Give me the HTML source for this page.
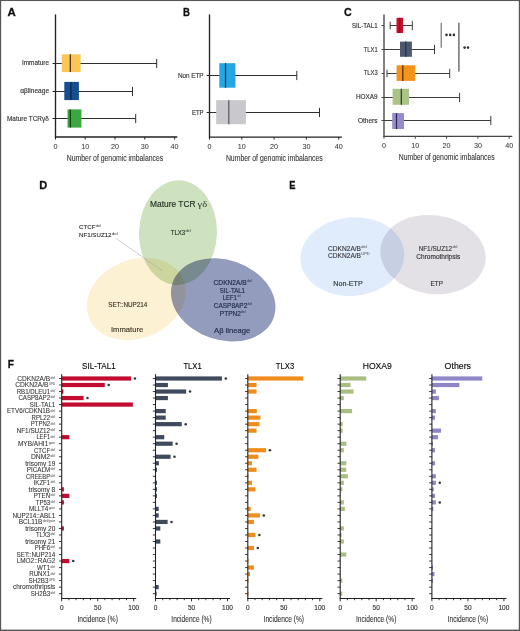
<!DOCTYPE html>
<html><head><meta charset="utf-8"><style>
html,body{margin:0;padding:0;background:#fff;}
body{width:520px;height:631px;overflow:hidden;}
svg{display:block;font-family:"Liberation Sans", sans-serif;}
</style></head><body>
<svg width="520" height="631" viewBox="0 0 520 631">
<rect x="0" y="0" width="520" height="631" fill="#fff"/>
<text x="7.55" y="16.10" font-size="11.6" fill="#111" textLength="8.30" lengthAdjust="spacingAndGlyphs" font-weight="bold" stroke="#111" stroke-width="0.3">A</text>
<text x="182.95" y="16.00" font-size="11.6" fill="#111" textLength="6.90" lengthAdjust="spacingAndGlyphs" font-weight="bold" stroke="#111" stroke-width="0.3">B</text>
<text x="343.95" y="16.10" font-size="11.6" fill="#111" textLength="7.70" lengthAdjust="spacingAndGlyphs" font-weight="bold" stroke="#111" stroke-width="0.3">C</text>
<text x="39.25" y="189.30" font-size="11.6" fill="#111" textLength="8.00" lengthAdjust="spacingAndGlyphs" font-weight="bold" stroke="#111" stroke-width="0.3">D</text>
<text x="289.25" y="189.30" font-size="11.6" fill="#111" textLength="6.20" lengthAdjust="spacingAndGlyphs" font-weight="bold" stroke="#111" stroke-width="0.3">E</text>
<text x="7.85" y="368.40" font-size="11.6" fill="#111" textLength="6.20" lengthAdjust="spacingAndGlyphs" font-weight="bold" stroke="#111" stroke-width="0.3">F</text>
<line x1="55.50" y1="14.40" x2="55.50" y2="137.60" stroke="#222" stroke-width="1.35"/>
<line x1="54.90" y1="137.00" x2="177.30" y2="137.00" stroke="#222" stroke-width="1.35"/>
<line x1="55.50" y1="137.00" x2="55.50" y2="139.50" stroke="#222" stroke-width="1"/>
<line x1="85.20" y1="137.00" x2="85.20" y2="139.50" stroke="#222" stroke-width="1"/>
<line x1="115.00" y1="137.00" x2="115.00" y2="139.50" stroke="#222" stroke-width="1"/>
<line x1="144.80" y1="137.00" x2="144.80" y2="139.50" stroke="#222" stroke-width="1"/>
<line x1="174.60" y1="137.00" x2="174.60" y2="139.50" stroke="#222" stroke-width="1"/>
<text x="55.50" y="148.60" font-size="7.2" text-anchor="middle" fill="#3a3a3a" stroke="#3a3a3a" stroke-width="0.05">0</text>
<text x="85.20" y="148.60" font-size="7.2" text-anchor="middle" fill="#3a3a3a" stroke="#3a3a3a" stroke-width="0.05">10</text>
<text x="115.00" y="148.60" font-size="7.2" text-anchor="middle" fill="#3a3a3a" stroke="#3a3a3a" stroke-width="0.05">20</text>
<text x="144.80" y="148.60" font-size="7.2" text-anchor="middle" fill="#3a3a3a" stroke="#3a3a3a" stroke-width="0.05">30</text>
<text x="174.60" y="148.60" font-size="7.2" text-anchor="middle" fill="#3a3a3a" stroke="#3a3a3a" stroke-width="0.05">40</text>
<text x="66.80" y="160.80" font-size="9.9" fill="#333" textLength="96.40" lengthAdjust="spacingAndGlyphs" stroke="#333" stroke-width="0.1">Number of genomic imbalances</text>
<line x1="52.60" y1="63.50" x2="55.50" y2="63.50" stroke="#222" stroke-width="1"/>
<line x1="52.60" y1="91.50" x2="55.50" y2="91.50" stroke="#222" stroke-width="1"/>
<line x1="52.60" y1="118.50" x2="55.50" y2="118.50" stroke="#222" stroke-width="1"/>
<line x1="55.50" y1="63.50" x2="156.70" y2="63.50" stroke="#2e2e2e" stroke-width="1.05"/>
<line x1="156.70" y1="58.90" x2="156.70" y2="68.10" stroke="#2e2e2e" stroke-width="1"/>
<rect x="61.80" y="54.30" width="18.80" height="17.80" fill="#fbc754"/>
<line x1="70.30" y1="54.30" x2="70.30" y2="72.10" stroke="#3a2a10" stroke-width="1.2"/>
<line x1="55.50" y1="91.50" x2="132.50" y2="91.50" stroke="#2e2e2e" stroke-width="1.05"/>
<line x1="132.50" y1="86.90" x2="132.50" y2="96.10" stroke="#2e2e2e" stroke-width="1"/>
<rect x="64.30" y="81.90" width="14.60" height="18.20" fill="#154f8f"/>
<line x1="70.90" y1="81.90" x2="70.90" y2="100.10" stroke="#0c2440" stroke-width="1.2"/>
<line x1="55.50" y1="118.50" x2="135.70" y2="118.50" stroke="#2e2e2e" stroke-width="1.05"/>
<line x1="135.70" y1="113.90" x2="135.70" y2="123.10" stroke="#2e2e2e" stroke-width="1"/>
<rect x="67.50" y="109.40" width="13.90" height="18.20" fill="#3aa83e"/>
<line x1="70.30" y1="109.40" x2="70.30" y2="127.60" stroke="#12361a" stroke-width="1.2"/>
<text x="49.00" y="65.40" font-size="6.5" text-anchor="end" fill="#333" textLength="27.00" lengthAdjust="spacingAndGlyphs" stroke="#333" stroke-width="0.14">Immature</text>
<text x="49.10" y="93.20" font-size="6.5" text-anchor="end" fill="#333" textLength="28.80" lengthAdjust="spacingAndGlyphs" stroke="#333" stroke-width="0.14">αβlineage</text>
<text x="48.80" y="120.70" font-size="6.5" text-anchor="end" fill="#333" textLength="41.80" lengthAdjust="spacingAndGlyphs" stroke="#333" stroke-width="0.14">Mature TCRγδ</text>
<line x1="209.50" y1="14.40" x2="209.50" y2="137.70" stroke="#222" stroke-width="1.35"/>
<line x1="208.90" y1="137.10" x2="341.90" y2="137.10" stroke="#222" stroke-width="1.35"/>
<line x1="209.50" y1="137.10" x2="209.50" y2="139.60" stroke="#222" stroke-width="1"/>
<line x1="241.80" y1="137.10" x2="241.80" y2="139.60" stroke="#222" stroke-width="1"/>
<line x1="274.10" y1="137.10" x2="274.10" y2="139.60" stroke="#222" stroke-width="1"/>
<line x1="306.40" y1="137.10" x2="306.40" y2="139.60" stroke="#222" stroke-width="1"/>
<line x1="338.70" y1="137.10" x2="338.70" y2="139.60" stroke="#222" stroke-width="1"/>
<text x="209.50" y="148.80" font-size="7.2" text-anchor="middle" fill="#3a3a3a" stroke="#3a3a3a" stroke-width="0.05">0</text>
<text x="241.80" y="148.80" font-size="7.2" text-anchor="middle" fill="#3a3a3a" stroke="#3a3a3a" stroke-width="0.05">10</text>
<text x="274.10" y="148.80" font-size="7.2" text-anchor="middle" fill="#3a3a3a" stroke="#3a3a3a" stroke-width="0.05">20</text>
<text x="306.40" y="148.80" font-size="7.2" text-anchor="middle" fill="#3a3a3a" stroke="#3a3a3a" stroke-width="0.05">30</text>
<text x="338.70" y="148.80" font-size="7.2" text-anchor="middle" fill="#3a3a3a" stroke="#3a3a3a" stroke-width="0.05">40</text>
<text x="225.90" y="161.00" font-size="9.9" fill="#333" textLength="96.80" lengthAdjust="spacingAndGlyphs" stroke="#333" stroke-width="0.1">Number of genomic imbalances</text>
<line x1="206.70" y1="75.50" x2="209.50" y2="75.50" stroke="#222" stroke-width="1"/>
<line x1="206.70" y1="112.50" x2="209.50" y2="112.50" stroke="#222" stroke-width="1"/>
<line x1="209.50" y1="75.50" x2="296.80" y2="75.50" stroke="#2e2e2e" stroke-width="1.05"/>
<line x1="296.80" y1="70.90" x2="296.80" y2="80.10" stroke="#2e2e2e" stroke-width="1"/>
<rect x="219.30" y="63.20" width="16.10" height="24.50" fill="#25a5e1"/>
<line x1="225.50" y1="63.20" x2="225.50" y2="87.70" stroke="#0d2a44" stroke-width="1.2"/>
<line x1="209.50" y1="112.50" x2="319.50" y2="112.50" stroke="#2e2e2e" stroke-width="1.05"/>
<line x1="319.50" y1="107.90" x2="319.50" y2="117.10" stroke="#2e2e2e" stroke-width="1"/>
<rect x="216.20" y="100.20" width="29.70" height="24.00" fill="#c8c8cd"/>
<line x1="228.80" y1="100.20" x2="228.80" y2="124.20" stroke="#555" stroke-width="1.2"/>
<text x="203.60" y="77.50" font-size="6.5" text-anchor="end" fill="#333" textLength="25.70" lengthAdjust="spacingAndGlyphs" stroke="#333" stroke-width="0.14">Non ETP</text>
<text x="203.60" y="114.60" font-size="6.5" text-anchor="end" fill="#333" textLength="11.70" lengthAdjust="spacingAndGlyphs" stroke="#333" stroke-width="0.14">ETP</text>
<line x1="384.00" y1="14.40" x2="384.00" y2="136.90" stroke="#444" stroke-width="1.35"/>
<line x1="383.40" y1="136.30" x2="512.30" y2="136.30" stroke="#444" stroke-width="1.35"/>
<line x1="384.00" y1="136.30" x2="384.00" y2="138.80" stroke="#444" stroke-width="1"/>
<line x1="415.30" y1="136.30" x2="415.30" y2="138.80" stroke="#444" stroke-width="1"/>
<line x1="446.60" y1="136.30" x2="446.60" y2="138.80" stroke="#444" stroke-width="1"/>
<line x1="477.90" y1="136.30" x2="477.90" y2="138.80" stroke="#444" stroke-width="1"/>
<line x1="509.20" y1="136.30" x2="509.20" y2="138.80" stroke="#444" stroke-width="1"/>
<text x="384.00" y="147.80" font-size="7.2" text-anchor="middle" fill="#3a3a3a" stroke="#3a3a3a" stroke-width="0.05">0</text>
<text x="415.30" y="147.80" font-size="7.2" text-anchor="middle" fill="#3a3a3a" stroke="#3a3a3a" stroke-width="0.05">10</text>
<text x="446.60" y="147.80" font-size="7.2" text-anchor="middle" fill="#3a3a3a" stroke="#3a3a3a" stroke-width="0.05">20</text>
<text x="477.90" y="147.80" font-size="7.2" text-anchor="middle" fill="#3a3a3a" stroke="#3a3a3a" stroke-width="0.05">30</text>
<text x="509.20" y="147.80" font-size="7.2" text-anchor="middle" fill="#3a3a3a" stroke="#3a3a3a" stroke-width="0.05">40</text>
<text x="398.80" y="160.40" font-size="9.9" fill="#333" textLength="95.90" lengthAdjust="spacingAndGlyphs" stroke="#333" stroke-width="0.1">Number of genomic imbalances</text>
<line x1="381.50" y1="25.50" x2="384.00" y2="25.50" stroke="#444" stroke-width="1"/>
<line x1="381.50" y1="49.50" x2="384.00" y2="49.50" stroke="#444" stroke-width="1"/>
<line x1="381.50" y1="73.50" x2="384.00" y2="73.50" stroke="#444" stroke-width="1"/>
<line x1="381.50" y1="97.50" x2="384.00" y2="97.50" stroke="#444" stroke-width="1"/>
<line x1="381.50" y1="120.50" x2="384.00" y2="120.50" stroke="#444" stroke-width="1"/>
<line x1="390.20" y1="25.50" x2="412.30" y2="25.50" stroke="#3c3c3c" stroke-width="1.05"/>
<line x1="390.20" y1="21.70" x2="390.20" y2="29.30" stroke="#3c3c3c" stroke-width="1"/>
<line x1="412.30" y1="20.90" x2="412.30" y2="30.10" stroke="#3c3c3c" stroke-width="1"/>
<rect x="396.50" y="17.80" width="6.60" height="15.20" fill="#c8102e"/>
<line x1="399.70" y1="17.80" x2="399.70" y2="33.00" stroke="#8a0a20" stroke-width="1.2"/>
<line x1="384.00" y1="49.50" x2="434.50" y2="49.50" stroke="#3c3c3c" stroke-width="1.05"/>
<line x1="434.50" y1="44.90" x2="434.50" y2="54.10" stroke="#3c3c3c" stroke-width="1"/>
<rect x="400.00" y="41.60" width="11.90" height="15.20" fill="#4b586e"/>
<line x1="405.80" y1="41.60" x2="405.80" y2="56.80" stroke="#243044" stroke-width="1.2"/>
<line x1="387.00" y1="73.50" x2="449.70" y2="73.50" stroke="#3c3c3c" stroke-width="1.05"/>
<line x1="387.00" y1="69.70" x2="387.00" y2="77.30" stroke="#3c3c3c" stroke-width="1"/>
<line x1="449.70" y1="68.90" x2="449.70" y2="78.10" stroke="#3c3c3c" stroke-width="1"/>
<rect x="396.60" y="65.30" width="18.60" height="15.60" fill="#f5921a"/>
<line x1="402.80" y1="65.30" x2="402.80" y2="80.90" stroke="#4a2a00" stroke-width="1.2"/>
<line x1="384.00" y1="97.50" x2="459.60" y2="97.50" stroke="#3c3c3c" stroke-width="1.05"/>
<line x1="459.60" y1="92.90" x2="459.60" y2="102.10" stroke="#3c3c3c" stroke-width="1"/>
<rect x="392.60" y="88.80" width="16.40" height="16.00" fill="#aac387"/>
<line x1="401.30" y1="88.80" x2="401.30" y2="104.80" stroke="#2a3a1a" stroke-width="1.2"/>
<line x1="384.00" y1="120.50" x2="490.80" y2="120.50" stroke="#3c3c3c" stroke-width="1.05"/>
<line x1="490.80" y1="115.90" x2="490.80" y2="125.10" stroke="#3c3c3c" stroke-width="1"/>
<rect x="392.20" y="113.10" width="11.80" height="15.90" fill="#968ccd"/>
<line x1="396.50" y1="113.10" x2="396.50" y2="129.00" stroke="#2a2250" stroke-width="1.2"/>
<text x="377.60" y="27.60" font-size="6.5" text-anchor="end" fill="#333" textLength="25.60" lengthAdjust="spacingAndGlyphs" stroke="#333" stroke-width="0.14">SIL-TAL1</text>
<text x="377.60" y="51.60" font-size="6.5" text-anchor="end" fill="#333" textLength="13.80" lengthAdjust="spacingAndGlyphs" stroke="#333" stroke-width="0.14">TLX1</text>
<text x="377.60" y="75.40" font-size="6.5" text-anchor="end" fill="#333" textLength="13.80" lengthAdjust="spacingAndGlyphs" stroke="#333" stroke-width="0.14">TLX3</text>
<text x="377.60" y="99.30" font-size="6.5" text-anchor="end" fill="#333" textLength="21.70" lengthAdjust="spacingAndGlyphs" stroke="#333" stroke-width="0.14">HOXA9</text>
<text x="377.60" y="123.40" font-size="6.5" text-anchor="end" fill="#333" textLength="19.70" lengthAdjust="spacingAndGlyphs" stroke="#333" stroke-width="0.14">Others</text>
<line x1="441.20" y1="22.70" x2="441.20" y2="47.80" stroke="#666" stroke-width="1.1"/>
<line x1="458.90" y1="22.70" x2="458.90" y2="71.50" stroke="#666" stroke-width="1.4"/>
<circle cx="446.50" cy="34.90" r="1.3" fill="#333"/>
<circle cx="450.20" cy="34.90" r="1.3" fill="#333"/>
<circle cx="453.90" cy="34.90" r="1.3" fill="#333"/>
<circle cx="464.60" cy="47.60" r="1.3" fill="#333"/>
<circle cx="468.00" cy="47.60" r="1.3" fill="#333"/>
<g style="isolation:isolate">
<ellipse cx="178.0" cy="232.6" rx="39.0" ry="52.3" transform="rotate(1.6 178 232.6)" fill="#cfe2c0" style="mix-blend-mode:multiply"/>
<ellipse cx="136.2" cy="298.9" rx="50.9" ry="39.4" transform="rotate(-22.3 136.2 298.9)" fill="#fdf1d4" style="mix-blend-mode:multiply"/>
<ellipse cx="223.2" cy="299.9" rx="53.5" ry="40.1" transform="rotate(18.8 223.2 299.9)" fill="#939cbd" style="mix-blend-mode:multiply"/>
</g>
<line x1="116.20" y1="238.50" x2="162.30" y2="270.80" stroke="#aaa" stroke-width="0.6"/>
<text x="150.10" y="207.10" font-size="8.7" fill="#1f2a1f" textLength="45.50" lengthAdjust="spacingAndGlyphs" stroke="#1f2a1f" stroke-width="0.14">Mature TCR </text>
<text x="197.50" y="207.10" font-size="8.2" fill="#1f2a1f" textLength="9.60" lengthAdjust="spacingAndGlyphs" font-family='"Liberation Serif", serif'>γδ</text>
<text x="170.80" y="235.10" font-size="7.0" fill="#1f2a1f" textLength="14.30" lengthAdjust="spacingAndGlyphs" stroke="#1f2a1f" stroke-width="0.14">TLX3</text>
<text x="185.40" y="232.16" font-size="3.6" fill="#1f2a1f" textLength="5.30" lengthAdjust="spacingAndGlyphs">del</text>
<text x="79.00" y="229.40" font-size="6.2" fill="#333" textLength="16.40" lengthAdjust="spacingAndGlyphs" stroke="#333" stroke-width="0.14">CTCF</text>
<text x="95.70" y="226.80" font-size="3.4" fill="#333" textLength="5.30" lengthAdjust="spacingAndGlyphs">del</text>
<text x="79.00" y="237.20" font-size="6.2" fill="#333" textLength="32.50" lengthAdjust="spacingAndGlyphs" stroke="#333" stroke-width="0.14">NF1/SUZ12</text>
<text x="111.80" y="234.60" font-size="3.4" fill="#333" textLength="5.90" lengthAdjust="spacingAndGlyphs">del</text>
<text x="108.30" y="307.10" font-size="6.7" fill="#3e3526" textLength="39.00" lengthAdjust="spacingAndGlyphs" stroke="#3e3526" stroke-width="0.14">SET::NUP214</text>
<text x="111.00" y="332.10" font-size="7.6" fill="#3e3526" textLength="32.30" lengthAdjust="spacingAndGlyphs" stroke="#3e3526" stroke-width="0.14">Immature</text>
<text x="213.60" y="284.80" font-size="6.7" fill="#1c2645" textLength="33.10" lengthAdjust="spacingAndGlyphs" stroke="#1c2645" stroke-width="0.14">CDKN2A/B</text>
<text x="247.00" y="281.99" font-size="3.6" fill="#1c2645" textLength="4.90" lengthAdjust="spacingAndGlyphs">del</text>
<text x="219.80" y="292.50" font-size="6.7" fill="#1c2645" textLength="25.20" lengthAdjust="spacingAndGlyphs" stroke="#1c2645" stroke-width="0.14">SIL-TAL1</text>
<text x="222.80" y="300.20" font-size="6.7" fill="#1c2645" textLength="14.10" lengthAdjust="spacingAndGlyphs" stroke="#1c2645" stroke-width="0.14">LEF1</text>
<text x="237.20" y="297.39" font-size="3.6" fill="#1c2645" textLength="3.40" lengthAdjust="spacingAndGlyphs">del</text>
<text x="213.80" y="308.10" font-size="6.7" fill="#1c2645" textLength="33.50" lengthAdjust="spacingAndGlyphs" stroke="#1c2645" stroke-width="0.14">CASP8AP2</text>
<text x="247.60" y="305.29" font-size="3.6" fill="#1c2645" textLength="4.40" lengthAdjust="spacingAndGlyphs">del</text>
<text x="219.80" y="315.60" font-size="6.7" fill="#1c2645" textLength="21.20" lengthAdjust="spacingAndGlyphs" stroke="#1c2645" stroke-width="0.14">PTPN2</text>
<text x="241.30" y="312.79" font-size="3.6" fill="#1c2645" textLength="4.30" lengthAdjust="spacingAndGlyphs">del</text>
<text x="214.10" y="332.90" font-size="7.6" fill="#1c2645" textLength="36.10" lengthAdjust="spacingAndGlyphs" stroke="#1c2645" stroke-width="0.14">Aβ lineage</text>
<g style="isolation:isolate">
<ellipse cx="352.4" cy="256.6" rx="52.0" ry="39.3" transform="rotate(-4.9 352.4 256.6)" fill="#e0ecfb" style="mix-blend-mode:multiply"/>
<ellipse cx="433.0" cy="254.6" rx="52.9" ry="39.4" transform="rotate(7.9 433 254.6)" fill="#e3e1e6" style="mix-blend-mode:multiply"/>
</g>
<text x="328.10" y="250.90" font-size="6.5" fill="#3a3a3a" textLength="32.90" lengthAdjust="spacingAndGlyphs" stroke="#3a3a3a" stroke-width="0.14">CDKN2A/B</text>
<text x="361.30" y="248.17" font-size="3.5" fill="#3a3a3a" textLength="5.40" lengthAdjust="spacingAndGlyphs">del</text>
<text x="328.10" y="258.20" font-size="6.5" fill="#3a3a3a" textLength="32.90" lengthAdjust="spacingAndGlyphs" stroke="#3a3a3a" stroke-width="0.14">CDKN2A/B</text>
<text x="361.30" y="255.47" font-size="3.5" fill="#3a3a3a" textLength="8.30" lengthAdjust="spacingAndGlyphs">UPD</text>
<text x="333.30" y="285.50" font-size="7.0" fill="#333" textLength="29.40" lengthAdjust="spacingAndGlyphs" stroke="#333" stroke-width="0.14">Non-ETP</text>
<text x="418.70" y="250.90" font-size="6.5" fill="#3a3a3a" textLength="33.40" lengthAdjust="spacingAndGlyphs" stroke="#3a3a3a" stroke-width="0.14">NF1/SUZ12</text>
<text x="452.40" y="248.17" font-size="3.5" fill="#3a3a3a" textLength="5.00" lengthAdjust="spacingAndGlyphs">del</text>
<text x="416.30" y="258.80" font-size="6.5" fill="#333" textLength="43.90" lengthAdjust="spacingAndGlyphs" stroke="#333" stroke-width="0.14">Chromothripsis</text>
<text x="430.50" y="285.50" font-size="7.0" fill="#333" textLength="12.40" lengthAdjust="spacingAndGlyphs" stroke="#333" stroke-width="0.14">ETP</text>
<text x="17.30" y="380.80" font-size="6.5" fill="#333" textLength="32.80" lengthAdjust="spacingAndGlyphs" stroke="#333" stroke-width="0.07">CDKN2A/B</text>
<text x="50.50" y="378.90" font-size="3.8" fill="#444" textLength="4.70" lengthAdjust="spacingAndGlyphs">del</text>
<text x="15.20" y="387.32" font-size="6.5" fill="#333" textLength="33.30" lengthAdjust="spacingAndGlyphs" stroke="#333" stroke-width="0.07">CDKN2A/B</text>
<text x="48.90" y="385.42" font-size="3.8" fill="#444" textLength="6.30" lengthAdjust="spacingAndGlyphs">UPD</text>
<text x="16.70" y="393.84" font-size="6.5" fill="#333" textLength="33.40" lengthAdjust="spacingAndGlyphs" stroke="#333" stroke-width="0.07">RB1/DLEU1</text>
<text x="50.50" y="391.94" font-size="3.8" fill="#444" textLength="4.70" lengthAdjust="spacingAndGlyphs">del</text>
<text x="18.40" y="400.36" font-size="6.5" fill="#333" textLength="31.70" lengthAdjust="spacingAndGlyphs" stroke="#333" stroke-width="0.07">CASP8AP2</text>
<text x="50.50" y="398.46" font-size="3.8" fill="#444" textLength="4.70" lengthAdjust="spacingAndGlyphs">del</text>
<text x="29.80" y="406.88" font-size="6.5" fill="#333" textLength="25.50" lengthAdjust="spacingAndGlyphs" stroke="#333" stroke-width="0.07">SIL-TAL1</text>
<text x="6.90" y="413.40" font-size="6.5" fill="#333" textLength="43.20" lengthAdjust="spacingAndGlyphs" stroke="#333" stroke-width="0.07">ETV6/CDKN1B</text>
<text x="50.50" y="411.50" font-size="3.8" fill="#444" textLength="4.70" lengthAdjust="spacingAndGlyphs">del</text>
<text x="31.60" y="419.92" font-size="6.5" fill="#333" textLength="18.50" lengthAdjust="spacingAndGlyphs" stroke="#333" stroke-width="0.07">RPL22</text>
<text x="50.50" y="418.02" font-size="3.8" fill="#444" textLength="4.70" lengthAdjust="spacingAndGlyphs">del</text>
<text x="30.80" y="426.44" font-size="6.5" fill="#333" textLength="19.30" lengthAdjust="spacingAndGlyphs" stroke="#333" stroke-width="0.07">PTPN2</text>
<text x="50.50" y="424.54" font-size="3.8" fill="#444" textLength="4.70" lengthAdjust="spacingAndGlyphs">del</text>
<text x="16.70" y="432.96" font-size="6.5" fill="#333" textLength="33.40" lengthAdjust="spacingAndGlyphs" stroke="#333" stroke-width="0.07">NF1/SUZ12</text>
<text x="50.50" y="431.06" font-size="3.8" fill="#444" textLength="4.70" lengthAdjust="spacingAndGlyphs">del</text>
<text x="36.40" y="439.48" font-size="6.5" fill="#333" textLength="13.70" lengthAdjust="spacingAndGlyphs" stroke="#333" stroke-width="0.07">LEF1</text>
<text x="50.50" y="437.58" font-size="3.8" fill="#444" textLength="4.70" lengthAdjust="spacingAndGlyphs">del</text>
<text x="17.90" y="446.00" font-size="6.5" fill="#333" textLength="30.40" lengthAdjust="spacingAndGlyphs" stroke="#333" stroke-width="0.07">MYB/AHI1</text>
<text x="48.70" y="444.10" font-size="3.8" fill="#444" textLength="6.50" lengthAdjust="spacingAndGlyphs">gain</text>
<text x="34.00" y="452.52" font-size="6.5" fill="#333" textLength="16.10" lengthAdjust="spacingAndGlyphs" stroke="#333" stroke-width="0.07">CTCF</text>
<text x="50.50" y="450.62" font-size="3.8" fill="#444" textLength="4.70" lengthAdjust="spacingAndGlyphs">del</text>
<text x="31.00" y="459.04" font-size="6.5" fill="#333" textLength="19.10" lengthAdjust="spacingAndGlyphs" stroke="#333" stroke-width="0.07">DNM2</text>
<text x="50.50" y="457.14" font-size="3.8" fill="#444" textLength="4.70" lengthAdjust="spacingAndGlyphs">del</text>
<text x="25.30" y="465.56" font-size="6.5" fill="#333" textLength="30.00" lengthAdjust="spacingAndGlyphs" stroke="#333" stroke-width="0.07">trisomy 19</text>
<text x="26.80" y="472.08" font-size="6.5" fill="#333" textLength="23.30" lengthAdjust="spacingAndGlyphs" stroke="#333" stroke-width="0.07">PICALM</text>
<text x="50.50" y="470.18" font-size="3.8" fill="#444" textLength="4.70" lengthAdjust="spacingAndGlyphs">del</text>
<text x="26.00" y="478.60" font-size="6.5" fill="#333" textLength="24.10" lengthAdjust="spacingAndGlyphs" stroke="#333" stroke-width="0.07">CREEBP</text>
<text x="50.50" y="476.70" font-size="3.8" fill="#444" textLength="4.70" lengthAdjust="spacingAndGlyphs">del</text>
<text x="33.70" y="485.12" font-size="6.5" fill="#333" textLength="16.40" lengthAdjust="spacingAndGlyphs" stroke="#333" stroke-width="0.07">IKZF1</text>
<text x="50.50" y="483.22" font-size="3.8" fill="#444" textLength="4.70" lengthAdjust="spacingAndGlyphs">del</text>
<text x="28.60" y="491.64" font-size="6.5" fill="#333" textLength="26.70" lengthAdjust="spacingAndGlyphs" stroke="#333" stroke-width="0.07">trisomy 8</text>
<text x="33.70" y="498.16" font-size="6.5" fill="#333" textLength="16.40" lengthAdjust="spacingAndGlyphs" stroke="#333" stroke-width="0.07">PTEN</text>
<text x="50.50" y="496.26" font-size="3.8" fill="#444" textLength="4.70" lengthAdjust="spacingAndGlyphs">del</text>
<text x="35.80" y="504.68" font-size="6.5" fill="#333" textLength="14.30" lengthAdjust="spacingAndGlyphs" stroke="#333" stroke-width="0.07">TP53</text>
<text x="50.50" y="502.78" font-size="3.8" fill="#444" textLength="4.70" lengthAdjust="spacingAndGlyphs">del</text>
<text x="29.00" y="511.20" font-size="6.5" fill="#333" textLength="19.30" lengthAdjust="spacingAndGlyphs" stroke="#333" stroke-width="0.07">MLLT4</text>
<text x="48.70" y="509.30" font-size="3.8" fill="#444" textLength="6.50" lengthAdjust="spacingAndGlyphs">gain</text>
<text x="12.50" y="517.72" font-size="6.5" fill="#333" textLength="42.80" lengthAdjust="spacingAndGlyphs" stroke="#333" stroke-width="0.07">NUP214::ABL1</text>
<text x="18.80" y="524.24" font-size="6.5" fill="#333" textLength="23.50" lengthAdjust="spacingAndGlyphs" stroke="#333" stroke-width="0.07">BCL11B</text>
<text x="42.70" y="522.34" font-size="3.8" fill="#444" textLength="12.50" lengthAdjust="spacingAndGlyphs">del/gain</text>
<text x="25.30" y="530.76" font-size="6.5" fill="#333" textLength="30.00" lengthAdjust="spacingAndGlyphs" stroke="#333" stroke-width="0.07">trisomy 20</text>
<text x="36.00" y="537.28" font-size="6.5" fill="#333" textLength="14.10" lengthAdjust="spacingAndGlyphs" stroke="#333" stroke-width="0.07">TLX3</text>
<text x="50.50" y="535.38" font-size="3.8" fill="#444" textLength="4.70" lengthAdjust="spacingAndGlyphs">del</text>
<text x="25.30" y="543.80" font-size="6.5" fill="#333" textLength="30.00" lengthAdjust="spacingAndGlyphs" stroke="#333" stroke-width="0.07">trisomy 21</text>
<text x="34.80" y="550.32" font-size="6.5" fill="#333" textLength="15.30" lengthAdjust="spacingAndGlyphs" stroke="#333" stroke-width="0.07">PHF6</text>
<text x="50.50" y="548.42" font-size="3.8" fill="#444" textLength="4.70" lengthAdjust="spacingAndGlyphs">del</text>
<text x="16.50" y="556.84" font-size="6.5" fill="#333" textLength="38.80" lengthAdjust="spacingAndGlyphs" stroke="#333" stroke-width="0.07">SET::NUP214</text>
<text x="16.70" y="563.36" font-size="6.5" fill="#333" textLength="38.60" lengthAdjust="spacingAndGlyphs" stroke="#333" stroke-width="0.07">LMO2::RAG2</text>
<text x="37.00" y="569.88" font-size="6.5" fill="#333" textLength="13.10" lengthAdjust="spacingAndGlyphs" stroke="#333" stroke-width="0.07">WT1</text>
<text x="50.50" y="567.98" font-size="3.8" fill="#444" textLength="4.70" lengthAdjust="spacingAndGlyphs">del</text>
<text x="29.20" y="576.40" font-size="6.5" fill="#333" textLength="20.90" lengthAdjust="spacingAndGlyphs" stroke="#333" stroke-width="0.07">RUNX1</text>
<text x="50.50" y="574.50" font-size="3.8" fill="#444" textLength="4.70" lengthAdjust="spacingAndGlyphs">del</text>
<text x="28.60" y="582.92" font-size="6.5" fill="#333" textLength="19.90" lengthAdjust="spacingAndGlyphs" stroke="#333" stroke-width="0.07">SH2B3</text>
<text x="48.90" y="581.02" font-size="3.8" fill="#444" textLength="6.30" lengthAdjust="spacingAndGlyphs">UPD</text>
<text x="12.90" y="589.44" font-size="6.5" fill="#333" textLength="42.40" lengthAdjust="spacingAndGlyphs" stroke="#333" stroke-width="0.07">chromothripsis</text>
<text x="30.80" y="595.96" font-size="6.5" fill="#333" textLength="19.30" lengthAdjust="spacingAndGlyphs" stroke="#333" stroke-width="0.07">SH2B3</text>
<text x="50.50" y="594.06" font-size="3.8" fill="#444" textLength="4.70" lengthAdjust="spacingAndGlyphs">del</text>
<text x="98.90" y="369.10" font-size="9.4" text-anchor="middle" textLength="33.60" lengthAdjust="spacingAndGlyphs" stroke="#222" stroke-width="0.14">SIL-TAL1</text>
<rect x="61.70" y="376.40" width="69.35" height="4.20" fill="#c20c2f"/>
<circle cx="134.95" cy="378.50" r="1.25" fill="#333"/>
<rect x="61.70" y="382.92" width="43.07" height="4.20" fill="#c20c2f"/>
<circle cx="108.67" cy="385.02" r="1.25" fill="#333"/>
<rect x="61.70" y="389.44" width="1.68" height="4.20" fill="#c20c2f"/>
<rect x="61.70" y="395.96" width="21.90" height="4.20" fill="#c20c2f"/>
<circle cx="87.50" cy="398.06" r="1.25" fill="#333"/>
<rect x="61.70" y="402.48" width="71.17" height="4.20" fill="#c20c2f"/>
<rect x="61.70" y="435.08" width="7.67" height="4.20" fill="#c20c2f"/>
<rect x="61.70" y="487.24" width="2.19" height="4.20" fill="#c20c2f"/>
<rect x="61.70" y="493.76" width="7.67" height="4.20" fill="#c20c2f"/>
<rect x="61.70" y="500.28" width="2.19" height="4.20" fill="#c20c2f"/>
<rect x="61.70" y="526.36" width="2.19" height="4.20" fill="#c20c2f"/>
<rect x="61.70" y="558.96" width="7.67" height="4.20" fill="#c20c2f"/>
<circle cx="73.27" cy="561.06" r="1.25" fill="#333"/>
<line x1="61.70" y1="374.20" x2="61.70" y2="599.00" stroke="#222" stroke-width="1.1"/>
<line x1="61.20" y1="598.50" x2="136.20" y2="598.50" stroke="#222" stroke-width="1.1"/>
<line x1="59.00" y1="378.50" x2="61.70" y2="378.50" stroke="#222" stroke-width="0.9"/>
<line x1="59.00" y1="385.02" x2="61.70" y2="385.02" stroke="#222" stroke-width="0.9"/>
<line x1="59.00" y1="391.54" x2="61.70" y2="391.54" stroke="#222" stroke-width="0.9"/>
<line x1="59.00" y1="398.06" x2="61.70" y2="398.06" stroke="#222" stroke-width="0.9"/>
<line x1="59.00" y1="404.58" x2="61.70" y2="404.58" stroke="#222" stroke-width="0.9"/>
<line x1="59.00" y1="411.10" x2="61.70" y2="411.10" stroke="#222" stroke-width="0.9"/>
<line x1="59.00" y1="417.62" x2="61.70" y2="417.62" stroke="#222" stroke-width="0.9"/>
<line x1="59.00" y1="424.14" x2="61.70" y2="424.14" stroke="#222" stroke-width="0.9"/>
<line x1="59.00" y1="430.66" x2="61.70" y2="430.66" stroke="#222" stroke-width="0.9"/>
<line x1="59.00" y1="437.18" x2="61.70" y2="437.18" stroke="#222" stroke-width="0.9"/>
<line x1="59.00" y1="443.70" x2="61.70" y2="443.70" stroke="#222" stroke-width="0.9"/>
<line x1="59.00" y1="450.22" x2="61.70" y2="450.22" stroke="#222" stroke-width="0.9"/>
<line x1="59.00" y1="456.74" x2="61.70" y2="456.74" stroke="#222" stroke-width="0.9"/>
<line x1="59.00" y1="463.26" x2="61.70" y2="463.26" stroke="#222" stroke-width="0.9"/>
<line x1="59.00" y1="469.78" x2="61.70" y2="469.78" stroke="#222" stroke-width="0.9"/>
<line x1="59.00" y1="476.30" x2="61.70" y2="476.30" stroke="#222" stroke-width="0.9"/>
<line x1="59.00" y1="482.82" x2="61.70" y2="482.82" stroke="#222" stroke-width="0.9"/>
<line x1="59.00" y1="489.34" x2="61.70" y2="489.34" stroke="#222" stroke-width="0.9"/>
<line x1="59.00" y1="495.86" x2="61.70" y2="495.86" stroke="#222" stroke-width="0.9"/>
<line x1="59.00" y1="502.38" x2="61.70" y2="502.38" stroke="#222" stroke-width="0.9"/>
<line x1="59.00" y1="508.90" x2="61.70" y2="508.90" stroke="#222" stroke-width="0.9"/>
<line x1="59.00" y1="515.42" x2="61.70" y2="515.42" stroke="#222" stroke-width="0.9"/>
<line x1="59.00" y1="521.94" x2="61.70" y2="521.94" stroke="#222" stroke-width="0.9"/>
<line x1="59.00" y1="528.46" x2="61.70" y2="528.46" stroke="#222" stroke-width="0.9"/>
<line x1="59.00" y1="534.98" x2="61.70" y2="534.98" stroke="#222" stroke-width="0.9"/>
<line x1="59.00" y1="541.50" x2="61.70" y2="541.50" stroke="#222" stroke-width="0.9"/>
<line x1="59.00" y1="548.02" x2="61.70" y2="548.02" stroke="#222" stroke-width="0.9"/>
<line x1="59.00" y1="554.54" x2="61.70" y2="554.54" stroke="#222" stroke-width="0.9"/>
<line x1="59.00" y1="561.06" x2="61.70" y2="561.06" stroke="#222" stroke-width="0.9"/>
<line x1="59.00" y1="567.58" x2="61.70" y2="567.58" stroke="#222" stroke-width="0.9"/>
<line x1="59.00" y1="574.10" x2="61.70" y2="574.10" stroke="#222" stroke-width="0.9"/>
<line x1="59.00" y1="580.62" x2="61.70" y2="580.62" stroke="#222" stroke-width="0.9"/>
<line x1="59.00" y1="587.14" x2="61.70" y2="587.14" stroke="#222" stroke-width="0.9"/>
<line x1="59.00" y1="593.66" x2="61.70" y2="593.66" stroke="#222" stroke-width="0.9"/>
<line x1="61.70" y1="598.50" x2="61.70" y2="601.30" stroke="#222" stroke-width="0.9"/>
<line x1="68.90" y1="598.50" x2="68.90" y2="600.20" stroke="#222" stroke-width="0.9"/>
<line x1="76.10" y1="598.50" x2="76.10" y2="600.20" stroke="#222" stroke-width="0.9"/>
<line x1="83.30" y1="598.50" x2="83.30" y2="600.20" stroke="#222" stroke-width="0.9"/>
<line x1="90.50" y1="598.50" x2="90.50" y2="600.20" stroke="#222" stroke-width="0.9"/>
<line x1="97.70" y1="598.50" x2="97.70" y2="601.30" stroke="#222" stroke-width="0.9"/>
<line x1="104.90" y1="598.50" x2="104.90" y2="600.20" stroke="#222" stroke-width="0.9"/>
<line x1="112.10" y1="598.50" x2="112.10" y2="600.20" stroke="#222" stroke-width="0.9"/>
<line x1="119.30" y1="598.50" x2="119.30" y2="600.20" stroke="#222" stroke-width="0.9"/>
<line x1="126.50" y1="598.50" x2="126.50" y2="600.20" stroke="#222" stroke-width="0.9"/>
<line x1="133.70" y1="598.50" x2="133.70" y2="601.30" stroke="#222" stroke-width="0.9"/>
<text x="61.70" y="609.90" font-size="6.5" text-anchor="middle" fill="#333" stroke="#333" stroke-width="0.14">0</text>
<text x="97.70" y="609.90" font-size="6.5" text-anchor="middle" fill="#333" stroke="#333" stroke-width="0.14">50</text>
<text x="133.70" y="609.90" font-size="6.5" text-anchor="middle" fill="#333" stroke="#333" stroke-width="0.14">100</text>
<text x="97.70" y="621.90" font-size="8.6" text-anchor="middle" fill="#333" textLength="40.40" lengthAdjust="spacingAndGlyphs" stroke="#333" stroke-width="0.1">Incidence (%)</text>
<text x="192.60" y="369.10" font-size="9.4" text-anchor="middle" textLength="18.40" lengthAdjust="spacingAndGlyphs" stroke="#222" stroke-width="0.14">TLX1</text>
<rect x="155.50" y="376.40" width="66.43" height="4.20" fill="#3f4a5c"/>
<circle cx="225.83" cy="378.50" r="1.25" fill="#333"/>
<rect x="155.50" y="382.92" width="12.41" height="4.20" fill="#3f4a5c"/>
<rect x="155.50" y="389.44" width="30.66" height="4.20" fill="#3f4a5c"/>
<circle cx="190.06" cy="391.54" r="1.25" fill="#333"/>
<rect x="155.50" y="395.96" width="12.41" height="4.20" fill="#3f4a5c"/>
<rect x="155.50" y="409.00" width="10.22" height="4.20" fill="#3f4a5c"/>
<rect x="155.50" y="415.52" width="10.22" height="4.20" fill="#3f4a5c"/>
<rect x="155.50" y="422.04" width="26.28" height="4.20" fill="#3f4a5c"/>
<circle cx="185.68" cy="424.14" r="1.25" fill="#333"/>
<rect x="155.50" y="435.08" width="8.76" height="4.20" fill="#3f4a5c"/>
<rect x="155.50" y="441.60" width="17.16" height="4.20" fill="#3f4a5c"/>
<circle cx="176.56" cy="443.70" r="1.25" fill="#333"/>
<rect x="155.50" y="454.64" width="15.11" height="4.20" fill="#3f4a5c"/>
<circle cx="174.51" cy="456.74" r="1.25" fill="#333"/>
<rect x="155.50" y="461.16" width="3.43" height="4.20" fill="#3f4a5c"/>
<rect x="155.50" y="467.68" width="1.46" height="4.20" fill="#3f4a5c"/>
<rect x="155.50" y="480.72" width="1.46" height="4.20" fill="#3f4a5c"/>
<rect x="155.50" y="487.24" width="1.46" height="4.20" fill="#3f4a5c"/>
<rect x="155.50" y="493.76" width="1.46" height="4.20" fill="#3f4a5c"/>
<rect x="155.50" y="506.80" width="3.21" height="4.20" fill="#3f4a5c"/>
<rect x="155.50" y="513.32" width="3.21" height="4.20" fill="#3f4a5c"/>
<rect x="155.50" y="519.84" width="12.12" height="4.20" fill="#3f4a5c"/>
<circle cx="171.52" cy="521.94" r="1.25" fill="#333"/>
<rect x="155.50" y="526.36" width="4.82" height="4.20" fill="#3f4a5c"/>
<rect x="155.50" y="539.40" width="4.82" height="4.20" fill="#3f4a5c"/>
<rect x="155.50" y="585.04" width="3.21" height="4.20" fill="#3f4a5c"/>
<rect x="155.50" y="591.56" width="1.09" height="4.20" fill="#3f4a5c"/>
<line x1="155.50" y1="374.20" x2="155.50" y2="599.00" stroke="#222" stroke-width="1.1"/>
<line x1="155.00" y1="598.50" x2="230.00" y2="598.50" stroke="#222" stroke-width="1.1"/>
<line x1="152.80" y1="378.50" x2="155.50" y2="378.50" stroke="#222" stroke-width="0.9"/>
<line x1="152.80" y1="385.02" x2="155.50" y2="385.02" stroke="#222" stroke-width="0.9"/>
<line x1="152.80" y1="391.54" x2="155.50" y2="391.54" stroke="#222" stroke-width="0.9"/>
<line x1="152.80" y1="398.06" x2="155.50" y2="398.06" stroke="#222" stroke-width="0.9"/>
<line x1="152.80" y1="404.58" x2="155.50" y2="404.58" stroke="#222" stroke-width="0.9"/>
<line x1="152.80" y1="411.10" x2="155.50" y2="411.10" stroke="#222" stroke-width="0.9"/>
<line x1="152.80" y1="417.62" x2="155.50" y2="417.62" stroke="#222" stroke-width="0.9"/>
<line x1="152.80" y1="424.14" x2="155.50" y2="424.14" stroke="#222" stroke-width="0.9"/>
<line x1="152.80" y1="430.66" x2="155.50" y2="430.66" stroke="#222" stroke-width="0.9"/>
<line x1="152.80" y1="437.18" x2="155.50" y2="437.18" stroke="#222" stroke-width="0.9"/>
<line x1="152.80" y1="443.70" x2="155.50" y2="443.70" stroke="#222" stroke-width="0.9"/>
<line x1="152.80" y1="450.22" x2="155.50" y2="450.22" stroke="#222" stroke-width="0.9"/>
<line x1="152.80" y1="456.74" x2="155.50" y2="456.74" stroke="#222" stroke-width="0.9"/>
<line x1="152.80" y1="463.26" x2="155.50" y2="463.26" stroke="#222" stroke-width="0.9"/>
<line x1="152.80" y1="469.78" x2="155.50" y2="469.78" stroke="#222" stroke-width="0.9"/>
<line x1="152.80" y1="476.30" x2="155.50" y2="476.30" stroke="#222" stroke-width="0.9"/>
<line x1="152.80" y1="482.82" x2="155.50" y2="482.82" stroke="#222" stroke-width="0.9"/>
<line x1="152.80" y1="489.34" x2="155.50" y2="489.34" stroke="#222" stroke-width="0.9"/>
<line x1="152.80" y1="495.86" x2="155.50" y2="495.86" stroke="#222" stroke-width="0.9"/>
<line x1="152.80" y1="502.38" x2="155.50" y2="502.38" stroke="#222" stroke-width="0.9"/>
<line x1="152.80" y1="508.90" x2="155.50" y2="508.90" stroke="#222" stroke-width="0.9"/>
<line x1="152.80" y1="515.42" x2="155.50" y2="515.42" stroke="#222" stroke-width="0.9"/>
<line x1="152.80" y1="521.94" x2="155.50" y2="521.94" stroke="#222" stroke-width="0.9"/>
<line x1="152.80" y1="528.46" x2="155.50" y2="528.46" stroke="#222" stroke-width="0.9"/>
<line x1="152.80" y1="534.98" x2="155.50" y2="534.98" stroke="#222" stroke-width="0.9"/>
<line x1="152.80" y1="541.50" x2="155.50" y2="541.50" stroke="#222" stroke-width="0.9"/>
<line x1="152.80" y1="548.02" x2="155.50" y2="548.02" stroke="#222" stroke-width="0.9"/>
<line x1="152.80" y1="554.54" x2="155.50" y2="554.54" stroke="#222" stroke-width="0.9"/>
<line x1="152.80" y1="561.06" x2="155.50" y2="561.06" stroke="#222" stroke-width="0.9"/>
<line x1="152.80" y1="567.58" x2="155.50" y2="567.58" stroke="#222" stroke-width="0.9"/>
<line x1="152.80" y1="574.10" x2="155.50" y2="574.10" stroke="#222" stroke-width="0.9"/>
<line x1="152.80" y1="580.62" x2="155.50" y2="580.62" stroke="#222" stroke-width="0.9"/>
<line x1="152.80" y1="587.14" x2="155.50" y2="587.14" stroke="#222" stroke-width="0.9"/>
<line x1="152.80" y1="593.66" x2="155.50" y2="593.66" stroke="#222" stroke-width="0.9"/>
<line x1="155.50" y1="598.50" x2="155.50" y2="601.30" stroke="#222" stroke-width="0.9"/>
<line x1="162.70" y1="598.50" x2="162.70" y2="600.20" stroke="#222" stroke-width="0.9"/>
<line x1="169.90" y1="598.50" x2="169.90" y2="600.20" stroke="#222" stroke-width="0.9"/>
<line x1="177.10" y1="598.50" x2="177.10" y2="600.20" stroke="#222" stroke-width="0.9"/>
<line x1="184.30" y1="598.50" x2="184.30" y2="600.20" stroke="#222" stroke-width="0.9"/>
<line x1="191.50" y1="598.50" x2="191.50" y2="601.30" stroke="#222" stroke-width="0.9"/>
<line x1="198.70" y1="598.50" x2="198.70" y2="600.20" stroke="#222" stroke-width="0.9"/>
<line x1="205.90" y1="598.50" x2="205.90" y2="600.20" stroke="#222" stroke-width="0.9"/>
<line x1="213.10" y1="598.50" x2="213.10" y2="600.20" stroke="#222" stroke-width="0.9"/>
<line x1="220.30" y1="598.50" x2="220.30" y2="600.20" stroke="#222" stroke-width="0.9"/>
<line x1="227.50" y1="598.50" x2="227.50" y2="601.30" stroke="#222" stroke-width="0.9"/>
<text x="155.50" y="609.90" font-size="6.5" text-anchor="middle" fill="#333" stroke="#333" stroke-width="0.14">0</text>
<text x="191.50" y="609.90" font-size="6.5" text-anchor="middle" fill="#333" stroke="#333" stroke-width="0.14">50</text>
<text x="227.50" y="609.90" font-size="6.5" text-anchor="middle" fill="#333" stroke="#333" stroke-width="0.14">100</text>
<text x="191.50" y="621.90" font-size="8.6" text-anchor="middle" fill="#333" textLength="40.40" lengthAdjust="spacingAndGlyphs" stroke="#333" stroke-width="0.1">Incidence (%)</text>
<text x="285.00" y="369.10" font-size="9.4" text-anchor="middle" textLength="18.40" lengthAdjust="spacingAndGlyphs" stroke="#222" stroke-width="0.14">TLX3</text>
<rect x="247.80" y="376.40" width="55.48" height="4.20" fill="#ee8d1e"/>
<rect x="247.80" y="382.92" width="8.76" height="4.20" fill="#ee8d1e"/>
<rect x="247.80" y="389.44" width="8.76" height="4.20" fill="#ee8d1e"/>
<rect x="247.80" y="409.00" width="9.05" height="4.20" fill="#ee8d1e"/>
<rect x="247.80" y="415.52" width="12.63" height="4.20" fill="#ee8d1e"/>
<rect x="247.80" y="422.04" width="11.68" height="4.20" fill="#ee8d1e"/>
<rect x="247.80" y="428.56" width="8.76" height="4.20" fill="#ee8d1e"/>
<rect x="247.80" y="448.12" width="18.25" height="4.20" fill="#ee8d1e"/>
<circle cx="269.95" cy="450.22" r="1.25" fill="#333"/>
<rect x="247.80" y="454.64" width="10.51" height="4.20" fill="#ee8d1e"/>
<rect x="247.80" y="461.16" width="4.16" height="4.20" fill="#ee8d1e"/>
<rect x="247.80" y="467.68" width="8.76" height="4.20" fill="#ee8d1e"/>
<rect x="247.80" y="474.20" width="0.73" height="4.20" fill="#ee8d1e"/>
<rect x="247.80" y="480.72" width="4.16" height="4.20" fill="#ee8d1e"/>
<rect x="247.80" y="487.24" width="7.67" height="4.20" fill="#ee8d1e"/>
<rect x="247.80" y="506.80" width="2.92" height="4.20" fill="#ee8d1e"/>
<rect x="247.80" y="513.32" width="12.12" height="4.20" fill="#ee8d1e"/>
<circle cx="263.82" cy="515.42" r="1.25" fill="#333"/>
<rect x="247.80" y="519.84" width="6.13" height="4.20" fill="#ee8d1e"/>
<rect x="247.80" y="532.88" width="7.67" height="4.20" fill="#ee8d1e"/>
<circle cx="259.37" cy="534.98" r="1.25" fill="#333"/>
<rect x="247.80" y="545.92" width="6.13" height="4.20" fill="#ee8d1e"/>
<circle cx="257.83" cy="548.02" r="1.25" fill="#333"/>
<rect x="247.80" y="558.96" width="0.73" height="4.20" fill="#ee8d1e"/>
<rect x="247.80" y="565.48" width="6.13" height="4.20" fill="#ee8d1e"/>
<rect x="247.80" y="572.00" width="2.19" height="4.20" fill="#ee8d1e"/>
<rect x="247.80" y="578.52" width="0.73" height="4.20" fill="#ee8d1e"/>
<rect x="247.80" y="591.56" width="0.73" height="4.20" fill="#ee8d1e"/>
<line x1="247.80" y1="374.20" x2="247.80" y2="599.00" stroke="#222" stroke-width="1.1"/>
<line x1="247.30" y1="598.50" x2="322.30" y2="598.50" stroke="#222" stroke-width="1.1"/>
<line x1="245.10" y1="378.50" x2="247.80" y2="378.50" stroke="#222" stroke-width="0.9"/>
<line x1="245.10" y1="385.02" x2="247.80" y2="385.02" stroke="#222" stroke-width="0.9"/>
<line x1="245.10" y1="391.54" x2="247.80" y2="391.54" stroke="#222" stroke-width="0.9"/>
<line x1="245.10" y1="398.06" x2="247.80" y2="398.06" stroke="#222" stroke-width="0.9"/>
<line x1="245.10" y1="404.58" x2="247.80" y2="404.58" stroke="#222" stroke-width="0.9"/>
<line x1="245.10" y1="411.10" x2="247.80" y2="411.10" stroke="#222" stroke-width="0.9"/>
<line x1="245.10" y1="417.62" x2="247.80" y2="417.62" stroke="#222" stroke-width="0.9"/>
<line x1="245.10" y1="424.14" x2="247.80" y2="424.14" stroke="#222" stroke-width="0.9"/>
<line x1="245.10" y1="430.66" x2="247.80" y2="430.66" stroke="#222" stroke-width="0.9"/>
<line x1="245.10" y1="437.18" x2="247.80" y2="437.18" stroke="#222" stroke-width="0.9"/>
<line x1="245.10" y1="443.70" x2="247.80" y2="443.70" stroke="#222" stroke-width="0.9"/>
<line x1="245.10" y1="450.22" x2="247.80" y2="450.22" stroke="#222" stroke-width="0.9"/>
<line x1="245.10" y1="456.74" x2="247.80" y2="456.74" stroke="#222" stroke-width="0.9"/>
<line x1="245.10" y1="463.26" x2="247.80" y2="463.26" stroke="#222" stroke-width="0.9"/>
<line x1="245.10" y1="469.78" x2="247.80" y2="469.78" stroke="#222" stroke-width="0.9"/>
<line x1="245.10" y1="476.30" x2="247.80" y2="476.30" stroke="#222" stroke-width="0.9"/>
<line x1="245.10" y1="482.82" x2="247.80" y2="482.82" stroke="#222" stroke-width="0.9"/>
<line x1="245.10" y1="489.34" x2="247.80" y2="489.34" stroke="#222" stroke-width="0.9"/>
<line x1="245.10" y1="495.86" x2="247.80" y2="495.86" stroke="#222" stroke-width="0.9"/>
<line x1="245.10" y1="502.38" x2="247.80" y2="502.38" stroke="#222" stroke-width="0.9"/>
<line x1="245.10" y1="508.90" x2="247.80" y2="508.90" stroke="#222" stroke-width="0.9"/>
<line x1="245.10" y1="515.42" x2="247.80" y2="515.42" stroke="#222" stroke-width="0.9"/>
<line x1="245.10" y1="521.94" x2="247.80" y2="521.94" stroke="#222" stroke-width="0.9"/>
<line x1="245.10" y1="528.46" x2="247.80" y2="528.46" stroke="#222" stroke-width="0.9"/>
<line x1="245.10" y1="534.98" x2="247.80" y2="534.98" stroke="#222" stroke-width="0.9"/>
<line x1="245.10" y1="541.50" x2="247.80" y2="541.50" stroke="#222" stroke-width="0.9"/>
<line x1="245.10" y1="548.02" x2="247.80" y2="548.02" stroke="#222" stroke-width="0.9"/>
<line x1="245.10" y1="554.54" x2="247.80" y2="554.54" stroke="#222" stroke-width="0.9"/>
<line x1="245.10" y1="561.06" x2="247.80" y2="561.06" stroke="#222" stroke-width="0.9"/>
<line x1="245.10" y1="567.58" x2="247.80" y2="567.58" stroke="#222" stroke-width="0.9"/>
<line x1="245.10" y1="574.10" x2="247.80" y2="574.10" stroke="#222" stroke-width="0.9"/>
<line x1="245.10" y1="580.62" x2="247.80" y2="580.62" stroke="#222" stroke-width="0.9"/>
<line x1="245.10" y1="587.14" x2="247.80" y2="587.14" stroke="#222" stroke-width="0.9"/>
<line x1="245.10" y1="593.66" x2="247.80" y2="593.66" stroke="#222" stroke-width="0.9"/>
<line x1="247.80" y1="598.50" x2="247.80" y2="601.30" stroke="#222" stroke-width="0.9"/>
<line x1="255.00" y1="598.50" x2="255.00" y2="600.20" stroke="#222" stroke-width="0.9"/>
<line x1="262.20" y1="598.50" x2="262.20" y2="600.20" stroke="#222" stroke-width="0.9"/>
<line x1="269.40" y1="598.50" x2="269.40" y2="600.20" stroke="#222" stroke-width="0.9"/>
<line x1="276.60" y1="598.50" x2="276.60" y2="600.20" stroke="#222" stroke-width="0.9"/>
<line x1="283.80" y1="598.50" x2="283.80" y2="601.30" stroke="#222" stroke-width="0.9"/>
<line x1="291.00" y1="598.50" x2="291.00" y2="600.20" stroke="#222" stroke-width="0.9"/>
<line x1="298.20" y1="598.50" x2="298.20" y2="600.20" stroke="#222" stroke-width="0.9"/>
<line x1="305.40" y1="598.50" x2="305.40" y2="600.20" stroke="#222" stroke-width="0.9"/>
<line x1="312.60" y1="598.50" x2="312.60" y2="600.20" stroke="#222" stroke-width="0.9"/>
<line x1="319.80" y1="598.50" x2="319.80" y2="601.30" stroke="#222" stroke-width="0.9"/>
<text x="247.80" y="609.90" font-size="6.5" text-anchor="middle" fill="#333" stroke="#333" stroke-width="0.14">0</text>
<text x="283.80" y="609.90" font-size="6.5" text-anchor="middle" fill="#333" stroke="#333" stroke-width="0.14">50</text>
<text x="319.80" y="609.90" font-size="6.5" text-anchor="middle" fill="#333" stroke="#333" stroke-width="0.14">100</text>
<text x="283.80" y="621.90" font-size="8.6" text-anchor="middle" fill="#333" textLength="40.40" lengthAdjust="spacingAndGlyphs" stroke="#333" stroke-width="0.1">Incidence (%)</text>
<text x="377.30" y="369.10" font-size="9.4" text-anchor="middle" textLength="29.20" lengthAdjust="spacingAndGlyphs" stroke="#222" stroke-width="0.14">HOXA9</text>
<rect x="340.20" y="376.40" width="25.99" height="4.20" fill="#a9bf82"/>
<rect x="340.20" y="382.92" width="10.37" height="4.20" fill="#a9bf82"/>
<rect x="340.20" y="389.44" width="13.29" height="4.20" fill="#a9bf82"/>
<rect x="340.20" y="395.96" width="3.65" height="4.20" fill="#a9bf82"/>
<rect x="340.20" y="409.00" width="11.90" height="4.20" fill="#a9bf82"/>
<rect x="340.20" y="422.04" width="2.48" height="4.20" fill="#a9bf82"/>
<rect x="340.20" y="428.56" width="2.48" height="4.20" fill="#a9bf82"/>
<rect x="340.20" y="441.60" width="6.13" height="4.20" fill="#a9bf82"/>
<rect x="340.20" y="448.12" width="3.65" height="4.20" fill="#a9bf82"/>
<rect x="340.20" y="461.16" width="6.13" height="4.20" fill="#a9bf82"/>
<rect x="340.20" y="467.68" width="6.13" height="4.20" fill="#a9bf82"/>
<rect x="340.20" y="474.20" width="7.67" height="4.20" fill="#a9bf82"/>
<rect x="340.20" y="480.72" width="3.65" height="4.20" fill="#a9bf82"/>
<rect x="340.20" y="487.24" width="2.19" height="4.20" fill="#a9bf82"/>
<rect x="340.20" y="500.28" width="3.65" height="4.20" fill="#a9bf82"/>
<rect x="340.20" y="506.80" width="4.67" height="4.20" fill="#a9bf82"/>
<rect x="340.20" y="526.36" width="3.65" height="4.20" fill="#a9bf82"/>
<rect x="340.20" y="532.88" width="1.46" height="4.20" fill="#a9bf82"/>
<rect x="340.20" y="539.40" width="3.65" height="4.20" fill="#a9bf82"/>
<rect x="340.20" y="552.44" width="6.13" height="4.20" fill="#a9bf82"/>
<rect x="340.20" y="578.52" width="2.19" height="4.20" fill="#a9bf82"/>
<rect x="340.20" y="591.56" width="2.19" height="4.20" fill="#a9bf82"/>
<line x1="340.20" y1="374.20" x2="340.20" y2="599.00" stroke="#222" stroke-width="1.1"/>
<line x1="339.70" y1="598.50" x2="414.70" y2="598.50" stroke="#222" stroke-width="1.1"/>
<line x1="337.50" y1="378.50" x2="340.20" y2="378.50" stroke="#222" stroke-width="0.9"/>
<line x1="337.50" y1="385.02" x2="340.20" y2="385.02" stroke="#222" stroke-width="0.9"/>
<line x1="337.50" y1="391.54" x2="340.20" y2="391.54" stroke="#222" stroke-width="0.9"/>
<line x1="337.50" y1="398.06" x2="340.20" y2="398.06" stroke="#222" stroke-width="0.9"/>
<line x1="337.50" y1="404.58" x2="340.20" y2="404.58" stroke="#222" stroke-width="0.9"/>
<line x1="337.50" y1="411.10" x2="340.20" y2="411.10" stroke="#222" stroke-width="0.9"/>
<line x1="337.50" y1="417.62" x2="340.20" y2="417.62" stroke="#222" stroke-width="0.9"/>
<line x1="337.50" y1="424.14" x2="340.20" y2="424.14" stroke="#222" stroke-width="0.9"/>
<line x1="337.50" y1="430.66" x2="340.20" y2="430.66" stroke="#222" stroke-width="0.9"/>
<line x1="337.50" y1="437.18" x2="340.20" y2="437.18" stroke="#222" stroke-width="0.9"/>
<line x1="337.50" y1="443.70" x2="340.20" y2="443.70" stroke="#222" stroke-width="0.9"/>
<line x1="337.50" y1="450.22" x2="340.20" y2="450.22" stroke="#222" stroke-width="0.9"/>
<line x1="337.50" y1="456.74" x2="340.20" y2="456.74" stroke="#222" stroke-width="0.9"/>
<line x1="337.50" y1="463.26" x2="340.20" y2="463.26" stroke="#222" stroke-width="0.9"/>
<line x1="337.50" y1="469.78" x2="340.20" y2="469.78" stroke="#222" stroke-width="0.9"/>
<line x1="337.50" y1="476.30" x2="340.20" y2="476.30" stroke="#222" stroke-width="0.9"/>
<line x1="337.50" y1="482.82" x2="340.20" y2="482.82" stroke="#222" stroke-width="0.9"/>
<line x1="337.50" y1="489.34" x2="340.20" y2="489.34" stroke="#222" stroke-width="0.9"/>
<line x1="337.50" y1="495.86" x2="340.20" y2="495.86" stroke="#222" stroke-width="0.9"/>
<line x1="337.50" y1="502.38" x2="340.20" y2="502.38" stroke="#222" stroke-width="0.9"/>
<line x1="337.50" y1="508.90" x2="340.20" y2="508.90" stroke="#222" stroke-width="0.9"/>
<line x1="337.50" y1="515.42" x2="340.20" y2="515.42" stroke="#222" stroke-width="0.9"/>
<line x1="337.50" y1="521.94" x2="340.20" y2="521.94" stroke="#222" stroke-width="0.9"/>
<line x1="337.50" y1="528.46" x2="340.20" y2="528.46" stroke="#222" stroke-width="0.9"/>
<line x1="337.50" y1="534.98" x2="340.20" y2="534.98" stroke="#222" stroke-width="0.9"/>
<line x1="337.50" y1="541.50" x2="340.20" y2="541.50" stroke="#222" stroke-width="0.9"/>
<line x1="337.50" y1="548.02" x2="340.20" y2="548.02" stroke="#222" stroke-width="0.9"/>
<line x1="337.50" y1="554.54" x2="340.20" y2="554.54" stroke="#222" stroke-width="0.9"/>
<line x1="337.50" y1="561.06" x2="340.20" y2="561.06" stroke="#222" stroke-width="0.9"/>
<line x1="337.50" y1="567.58" x2="340.20" y2="567.58" stroke="#222" stroke-width="0.9"/>
<line x1="337.50" y1="574.10" x2="340.20" y2="574.10" stroke="#222" stroke-width="0.9"/>
<line x1="337.50" y1="580.62" x2="340.20" y2="580.62" stroke="#222" stroke-width="0.9"/>
<line x1="337.50" y1="587.14" x2="340.20" y2="587.14" stroke="#222" stroke-width="0.9"/>
<line x1="337.50" y1="593.66" x2="340.20" y2="593.66" stroke="#222" stroke-width="0.9"/>
<line x1="340.20" y1="598.50" x2="340.20" y2="601.30" stroke="#222" stroke-width="0.9"/>
<line x1="347.40" y1="598.50" x2="347.40" y2="600.20" stroke="#222" stroke-width="0.9"/>
<line x1="354.60" y1="598.50" x2="354.60" y2="600.20" stroke="#222" stroke-width="0.9"/>
<line x1="361.80" y1="598.50" x2="361.80" y2="600.20" stroke="#222" stroke-width="0.9"/>
<line x1="369.00" y1="598.50" x2="369.00" y2="600.20" stroke="#222" stroke-width="0.9"/>
<line x1="376.20" y1="598.50" x2="376.20" y2="601.30" stroke="#222" stroke-width="0.9"/>
<line x1="383.40" y1="598.50" x2="383.40" y2="600.20" stroke="#222" stroke-width="0.9"/>
<line x1="390.60" y1="598.50" x2="390.60" y2="600.20" stroke="#222" stroke-width="0.9"/>
<line x1="397.80" y1="598.50" x2="397.80" y2="600.20" stroke="#222" stroke-width="0.9"/>
<line x1="405.00" y1="598.50" x2="405.00" y2="600.20" stroke="#222" stroke-width="0.9"/>
<line x1="412.20" y1="598.50" x2="412.20" y2="601.30" stroke="#222" stroke-width="0.9"/>
<text x="340.20" y="609.90" font-size="6.5" text-anchor="middle" fill="#333" stroke="#333" stroke-width="0.14">0</text>
<text x="376.20" y="609.90" font-size="6.5" text-anchor="middle" fill="#333" stroke="#333" stroke-width="0.14">50</text>
<text x="412.20" y="609.90" font-size="6.5" text-anchor="middle" fill="#333" stroke="#333" stroke-width="0.14">100</text>
<text x="376.20" y="621.90" font-size="8.6" text-anchor="middle" fill="#333" textLength="40.40" lengthAdjust="spacingAndGlyphs" stroke="#333" stroke-width="0.1">Incidence (%)</text>
<text x="457.80" y="369.10" font-size="9.4" text-anchor="middle" textLength="26.40" lengthAdjust="spacingAndGlyphs" stroke="#222" stroke-width="0.14">Others</text>
<rect x="431.90" y="376.40" width="50.37" height="4.20" fill="#8e86c8"/>
<rect x="431.90" y="382.92" width="27.45" height="4.20" fill="#8e86c8"/>
<rect x="431.90" y="389.44" width="3.94" height="4.20" fill="#8e86c8"/>
<rect x="431.90" y="395.96" width="7.01" height="4.20" fill="#8e86c8"/>
<rect x="431.90" y="409.00" width="3.94" height="4.20" fill="#8e86c8"/>
<rect x="431.90" y="415.52" width="3.14" height="4.20" fill="#8e86c8"/>
<rect x="431.90" y="428.56" width="9.05" height="4.20" fill="#8e86c8"/>
<rect x="431.90" y="435.08" width="6.13" height="4.20" fill="#8e86c8"/>
<rect x="431.90" y="441.60" width="1.09" height="4.20" fill="#8e86c8"/>
<rect x="431.90" y="448.12" width="3.14" height="4.20" fill="#8e86c8"/>
<rect x="431.90" y="461.16" width="3.14" height="4.20" fill="#8e86c8"/>
<rect x="431.90" y="474.20" width="3.94" height="4.20" fill="#8e86c8"/>
<rect x="431.90" y="480.72" width="3.94" height="4.20" fill="#8e86c8"/>
<circle cx="439.74" cy="482.82" r="1.25" fill="#333"/>
<rect x="431.90" y="487.24" width="1.82" height="4.20" fill="#8e86c8"/>
<rect x="431.90" y="493.76" width="3.14" height="4.20" fill="#8e86c8"/>
<rect x="431.90" y="500.28" width="3.94" height="4.20" fill="#8e86c8"/>
<circle cx="439.74" cy="502.38" r="1.25" fill="#333"/>
<rect x="431.90" y="506.80" width="1.46" height="4.20" fill="#8e86c8"/>
<rect x="431.90" y="565.48" width="1.09" height="4.20" fill="#8e86c8"/>
<rect x="431.90" y="572.00" width="2.55" height="4.20" fill="#8e86c8"/>
<rect x="431.90" y="578.52" width="1.09" height="4.20" fill="#8e86c8"/>
<line x1="431.90" y1="374.20" x2="431.90" y2="599.00" stroke="#222" stroke-width="1.1"/>
<line x1="431.40" y1="598.50" x2="506.40" y2="598.50" stroke="#222" stroke-width="1.1"/>
<line x1="429.20" y1="378.50" x2="431.90" y2="378.50" stroke="#222" stroke-width="0.9"/>
<line x1="429.20" y1="385.02" x2="431.90" y2="385.02" stroke="#222" stroke-width="0.9"/>
<line x1="429.20" y1="391.54" x2="431.90" y2="391.54" stroke="#222" stroke-width="0.9"/>
<line x1="429.20" y1="398.06" x2="431.90" y2="398.06" stroke="#222" stroke-width="0.9"/>
<line x1="429.20" y1="404.58" x2="431.90" y2="404.58" stroke="#222" stroke-width="0.9"/>
<line x1="429.20" y1="411.10" x2="431.90" y2="411.10" stroke="#222" stroke-width="0.9"/>
<line x1="429.20" y1="417.62" x2="431.90" y2="417.62" stroke="#222" stroke-width="0.9"/>
<line x1="429.20" y1="424.14" x2="431.90" y2="424.14" stroke="#222" stroke-width="0.9"/>
<line x1="429.20" y1="430.66" x2="431.90" y2="430.66" stroke="#222" stroke-width="0.9"/>
<line x1="429.20" y1="437.18" x2="431.90" y2="437.18" stroke="#222" stroke-width="0.9"/>
<line x1="429.20" y1="443.70" x2="431.90" y2="443.70" stroke="#222" stroke-width="0.9"/>
<line x1="429.20" y1="450.22" x2="431.90" y2="450.22" stroke="#222" stroke-width="0.9"/>
<line x1="429.20" y1="456.74" x2="431.90" y2="456.74" stroke="#222" stroke-width="0.9"/>
<line x1="429.20" y1="463.26" x2="431.90" y2="463.26" stroke="#222" stroke-width="0.9"/>
<line x1="429.20" y1="469.78" x2="431.90" y2="469.78" stroke="#222" stroke-width="0.9"/>
<line x1="429.20" y1="476.30" x2="431.90" y2="476.30" stroke="#222" stroke-width="0.9"/>
<line x1="429.20" y1="482.82" x2="431.90" y2="482.82" stroke="#222" stroke-width="0.9"/>
<line x1="429.20" y1="489.34" x2="431.90" y2="489.34" stroke="#222" stroke-width="0.9"/>
<line x1="429.20" y1="495.86" x2="431.90" y2="495.86" stroke="#222" stroke-width="0.9"/>
<line x1="429.20" y1="502.38" x2="431.90" y2="502.38" stroke="#222" stroke-width="0.9"/>
<line x1="429.20" y1="508.90" x2="431.90" y2="508.90" stroke="#222" stroke-width="0.9"/>
<line x1="429.20" y1="515.42" x2="431.90" y2="515.42" stroke="#222" stroke-width="0.9"/>
<line x1="429.20" y1="521.94" x2="431.90" y2="521.94" stroke="#222" stroke-width="0.9"/>
<line x1="429.20" y1="528.46" x2="431.90" y2="528.46" stroke="#222" stroke-width="0.9"/>
<line x1="429.20" y1="534.98" x2="431.90" y2="534.98" stroke="#222" stroke-width="0.9"/>
<line x1="429.20" y1="541.50" x2="431.90" y2="541.50" stroke="#222" stroke-width="0.9"/>
<line x1="429.20" y1="548.02" x2="431.90" y2="548.02" stroke="#222" stroke-width="0.9"/>
<line x1="429.20" y1="554.54" x2="431.90" y2="554.54" stroke="#222" stroke-width="0.9"/>
<line x1="429.20" y1="561.06" x2="431.90" y2="561.06" stroke="#222" stroke-width="0.9"/>
<line x1="429.20" y1="567.58" x2="431.90" y2="567.58" stroke="#222" stroke-width="0.9"/>
<line x1="429.20" y1="574.10" x2="431.90" y2="574.10" stroke="#222" stroke-width="0.9"/>
<line x1="429.20" y1="580.62" x2="431.90" y2="580.62" stroke="#222" stroke-width="0.9"/>
<line x1="429.20" y1="587.14" x2="431.90" y2="587.14" stroke="#222" stroke-width="0.9"/>
<line x1="429.20" y1="593.66" x2="431.90" y2="593.66" stroke="#222" stroke-width="0.9"/>
<line x1="431.90" y1="598.50" x2="431.90" y2="601.30" stroke="#222" stroke-width="0.9"/>
<line x1="439.10" y1="598.50" x2="439.10" y2="600.20" stroke="#222" stroke-width="0.9"/>
<line x1="446.30" y1="598.50" x2="446.30" y2="600.20" stroke="#222" stroke-width="0.9"/>
<line x1="453.50" y1="598.50" x2="453.50" y2="600.20" stroke="#222" stroke-width="0.9"/>
<line x1="460.70" y1="598.50" x2="460.70" y2="600.20" stroke="#222" stroke-width="0.9"/>
<line x1="467.90" y1="598.50" x2="467.90" y2="601.30" stroke="#222" stroke-width="0.9"/>
<line x1="475.10" y1="598.50" x2="475.10" y2="600.20" stroke="#222" stroke-width="0.9"/>
<line x1="482.30" y1="598.50" x2="482.30" y2="600.20" stroke="#222" stroke-width="0.9"/>
<line x1="489.50" y1="598.50" x2="489.50" y2="600.20" stroke="#222" stroke-width="0.9"/>
<line x1="496.70" y1="598.50" x2="496.70" y2="600.20" stroke="#222" stroke-width="0.9"/>
<line x1="503.90" y1="598.50" x2="503.90" y2="601.30" stroke="#222" stroke-width="0.9"/>
<text x="431.90" y="609.90" font-size="6.5" text-anchor="middle" fill="#333" stroke="#333" stroke-width="0.14">0</text>
<text x="467.90" y="609.90" font-size="6.5" text-anchor="middle" fill="#333" stroke="#333" stroke-width="0.14">50</text>
<text x="503.90" y="609.90" font-size="6.5" text-anchor="middle" fill="#333" stroke="#333" stroke-width="0.14">100</text>
<text x="467.90" y="621.90" font-size="8.6" text-anchor="middle" fill="#333" textLength="40.40" lengthAdjust="spacingAndGlyphs" stroke="#333" stroke-width="0.1">Incidence (%)</text>
<rect x="0" y="0" width="520" height="1.05" fill="#575757"/><rect x="0" y="629.6" width="520" height="1.4" fill="#575757"/><rect x="0" y="0" width="1.15" height="631" fill="#555"/><rect x="518.8" y="0" width="1.2" height="631" fill="#555"/>
</svg>
</body></html>
